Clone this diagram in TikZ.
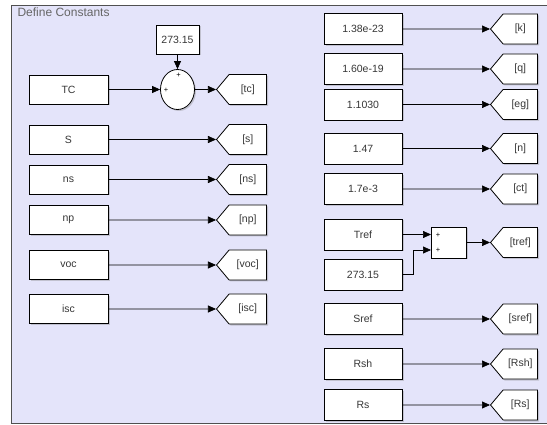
\documentclass[tikz,border=0pt]{standalone}
\usepackage{fontspec}
\setmainfont{Liberation Sans}
\usetikzlibrary{arrows.meta,shapes.geometric,shapes.symbols,shadows}
\definecolor{canvas}{RGB}{228,228,250}
\definecolor{panelline}{RGB}{80,80,80}
\definecolor{labelgray}{RGB}{55,55,55}

\begin{document}
\begin{tikzpicture}[x=1pt, y=-1pt,
	every node/.style={font=\fontsize{10.5}{12}\selectfont, text=labelgray},
	softshadow/.style={drop shadow={shadow xshift=1.5pt, shadow yshift=-1.5pt, opacity=0.35}},
	const/.style={rectangle, draw=black, fill=white, line width=0.8pt, minimum width=79, minimum height=29, inner sep=0pt, softshadow},
	wideconst/.style={const, minimum width=78, minimum height=31},
	goto/.style={signal, signal to=west, signal from=nowhere, signal pointer angle=100, draw=black, fill=white, line width=0.8pt, minimum width=50, minimum height=30, inner sep=0pt, anchor=west, softshadow},
	sumcirc/.style={ellipse, draw=black, fill=white, line width=0.8pt, minimum width=34, minimum height=40, inner sep=0pt, softshadow},
	sumblk/.style={rectangle, draw=black, fill=white, line width=0.8pt, minimum width=35, minimum height=31, inner sep=0pt, softshadow},
	plus/.style={font=\fontsize{7.5}{7.5}\selectfont, text=black, inner sep=0pt},
	wire/.style={line width=0.7pt, -{Triangle[length=8pt, width=7pt]}}]
	\clip (0,0) rectangle (547,425);
	% subsystem panel
	\draw[panelline, fill=canvas, line width=0.8pt] (11,5) rectangle (570,423);
	\node[anchor=north west, font=\fontsize{12}{13}\selectfont, text=black!60] (title) at (14,4) {Define Constants};

	% left column
	\node[const, minimum width=43] (c273a) at (177.5,39.5) {273.15};
	\node[const] (TC) at (68.5,89.5) {TC};
	\node[sumcirc] (sum1) at (177.5,89.5) {};
	\node[plus] (p1) at (166,90.5) {+};
	\node[plus] (p2) at (178.5,75.5) {+};
	\node[goto] (gtc) at (216,89.5) {[tc]};
	\draw[wire] (c273a) -- (sum1);
	\draw[wire] (TC) -- (sum1);
	\draw[wire] (sum1) -- (gtc);

	\node[const] (S) at (68.5,139.5) {S};
	\node[goto] (gs) at (216,139.5) {[s]};
	\draw[wire] (S) -- (gs);
	\node[const] (ns) at (68.5,179.5) {ns};
	\node[goto] (gns) at (216,179.5) {[ns]};
	\draw[wire] (ns) -- (gns);
	\node[const] (np) at (68.5,220) {np};
	\node[goto] (gnp) at (216,220) {[np]};
	\draw[wire] (np) -- (gnp);
	\node[const] (voc) at (68.5,265) {voc};
	\node[goto] (gvoc) at (216,265) {[voc]};
	\draw[wire] (voc) -- (gvoc);
	\node[const] (isc) at (68.5,309) {isc};
	\node[goto] (gisc) at (216,309) {[isc]};
	\draw[wire] (isc) -- (gisc);

	% right column
	\node[wideconst] (kb) at (363,29) {1.38e-23};
	\node[goto, minimum width=47] (gk) at (490,29) {[k]};
	\draw[wire] (kb) -- (gk);
	\node[wideconst] (qe) at (363,69) {1.60e-19};
	\node[goto, minimum width=47] (gq) at (490,69) {[q]};
	\draw[wire] (qe) -- (gq);
	\node[wideconst] (eg) at (363,104.5) {1.1030};
	\node[goto, minimum width=47] (geg) at (490,104.5) {[eg]};
	\draw[wire] (eg) -- (geg);
	\node[wideconst] (n) at (363,148.5) {1.47};
	\node[goto, minimum width=47] (gn) at (490,148.5) {[n]};
	\draw[wire] (n) -- (gn);
	\node[wideconst] (ct) at (363,189) {1.7e-3};
	\node[goto, minimum width=47] (gct) at (490,189) {[ct]};
	\draw[wire] (ct) -- (gct);

	\node[wideconst] (Tref) at (363,234.5) {Tref};
	\node[wideconst] (c273b) at (363,274.5) {273.15};
	\node[sumblk] (sum2) at (448.5,242.5) {};
	\node[plus] (p3) at (438,235) {+};
	\node[plus] (p4) at (438,250) {+};
	\coordinate (in1) at (431,234.5);
	\coordinate (in2) at (431,250);
	\coordinate (bend) at (413,274.5);
	\node[goto, minimum width=47] (gtref) at (490,242.5) {[tref]};
	\draw[wire] (Tref) -- (in1);
	\draw[wire] (c273b) -- (bend) |- (in2);
	\draw[wire] (sum2) -- (gtref);

	\node[wideconst] (sref) at (363,319) {Sref};
	\node[goto, minimum width=47] (gsref) at (490,319) {[sref]};
	\draw[wire] (sref) -- (gsref);
	\node[wideconst] (Rsh) at (363,364) {Rsh};
	\node[goto, minimum width=47] (gRsh) at (490,364) {[Rsh]};
	\draw[wire] (Rsh) -- (gRsh);
	\node[wideconst] (Rs) at (363,405) {Rs};
	\node[goto, minimum width=47] (gRs) at (490,405) {[Rs]};
	\draw[wire] (Rs) -- (gRs);
\end{tikzpicture}
\end{document}
